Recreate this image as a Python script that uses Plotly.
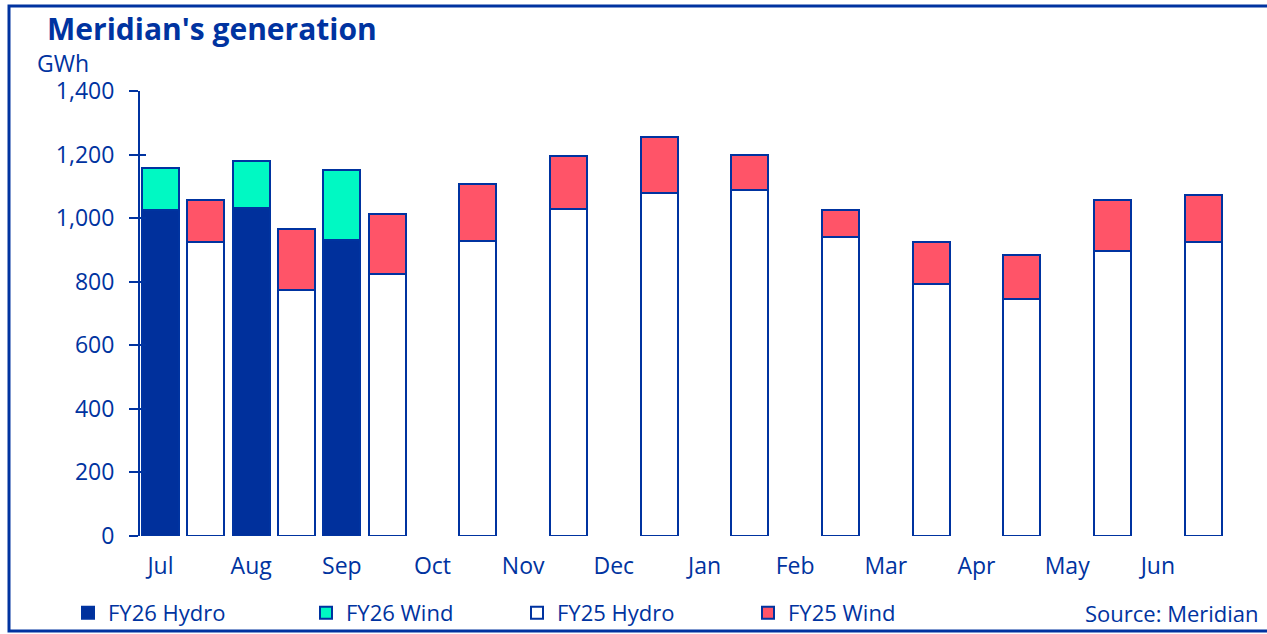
import plotly.graph_objects as go

months = ["Jul", "Aug", "Sep", "Oct", "Nov", "Dec", "Jan", "Feb", "Mar", "Apr", "May", "Jun"]

fy26_hydro = [1025, 1033, 932]
fy26_wind = [132, 146, 218]
fy25_hydro = [926, 774, 825, 928, 1029, 1080, 1088, 941, 793, 745, 897, 925]
fy25_wind = [130, 192, 188, 179, 166, 174, 112, 85, 133, 140, 160, 148]

BLUE = "#0033A0"
FONT = "Open Sans"

# plot area in pixels: x 140..1228, y 91..536
L, W, B, H = 140, 1088, 536, 445


def px(x):
    return (x - L) / W


def py(y):
    return (B - y) / H


x26 = list(range(len(fy26_hydro)))
x25 = [i + 0.5 for i in range(len(months))]

fig = go.Figure()
line = dict(color=BLUE, width=2)
fig.add_trace(go.Bar(x=x26, y=fy26_hydro, name="FY26 Hydro", width=0.41, legend="legend",
                     marker=dict(color="#00309C", line=line)))
fig.add_trace(go.Bar(x=x26, y=fy26_wind, name="FY26 Wind", width=0.41, legend="legend2",
                     marker=dict(color="#00F9C3", line=line)))
fig.add_trace(go.Bar(x=x25, y=fy25_hydro, name="FY25 Hydro", width=0.41, legend="legend3",
                     marker=dict(color="#FFFFFF", line=line)))
fig.add_trace(go.Bar(x=x25, y=fy25_wind, name="FY25 Wind", width=0.41, legend="legend4",
                     marker=dict(color="#FF5468", line=line)))

# invisible trace on the overlay axis so the inner tick marks render
fig.add_trace(go.Scatter(x=[0], y=[0], yaxis="y2", mode="markers",
                         marker=dict(opacity=0), showlegend=False, hoverinfo="skip"))


def leg(text_x):
    return dict(orientation="h", x=px(text_x - 40), xanchor="left", y=py(613), yanchor="middle",
                font=dict(size=22, color=BLUE), bgcolor="rgba(0,0,0,0)")


fig.update_layout(
    width=1267, height=634,
    barmode="stack",
    plot_bgcolor="white", paper_bgcolor="white",
    margin=dict(l=L, r=1267 - L - W, t=B - H, b=634 - B, autoexpand=False),
    font=dict(family=FONT, color=BLUE, size=22),
    showlegend=True,
    legend=leg(108), legend2=leg(346), legend3=leg(557), legend4=leg(788),
    xaxis=dict(range=[-0.226, 11.774], tickvals=list(range(len(months))), ticktext=months,
               showline=False, showgrid=False, zeroline=False, ticks="",
               ticklabelstandoff=14, tickfont=dict(size=23)),
    yaxis=dict(range=[0, 1400], tickvals=list(range(0, 1401, 200)), tickformat=",d",
               showgrid=False, zeroline=False, showline=True, linecolor=BLUE, linewidth=2,
               ticks="outside", ticklen=9, tickwidth=2, tickcolor=BLUE,
               ticklabelstandoff=10, tickfont=dict(size=23)),
    yaxis2=dict(range=[0, 1400], overlaying="y", side="left", tickvals=list(range(0, 1401, 200)),
                showticklabels=False, showgrid=False, zeroline=False, showline=False,
                ticks="inside", ticklen=6, tickwidth=2, tickcolor=BLUE),
    annotations=[
        dict(text="<b>Meridian's generation</b>", xref="paper", yref="paper",
             x=px(46), y=py(28), xanchor="left", yanchor="middle", borderpad=0,
             showarrow=False, font=dict(size=30, color=BLUE)),
        dict(text="GWh", xref="paper", yref="paper",
             x=px(36), y=py(63), xanchor="left", yanchor="middle", borderpad=0,
             showarrow=False, font=dict(size=23, color=BLUE)),
        dict(text="Source: Meridian", xref="paper", yref="paper",
             x=px(1261), y=py(613), xanchor="right", yanchor="middle",
             showarrow=False, font=dict(size=22, color=BLUE)),
    ],
    shapes=[
        dict(type="rect", xref="paper", yref="paper",
             x0=px(9), x1=px(1275), y0=py(631), y1=py(6),
             line=dict(color=BLUE, width=3), fillcolor="rgba(0,0,0,0)"),
    ],
)

fig.write_html("out.html", config={"displayModeBar": False},
               post_script="document.body.style.margin='0';")
